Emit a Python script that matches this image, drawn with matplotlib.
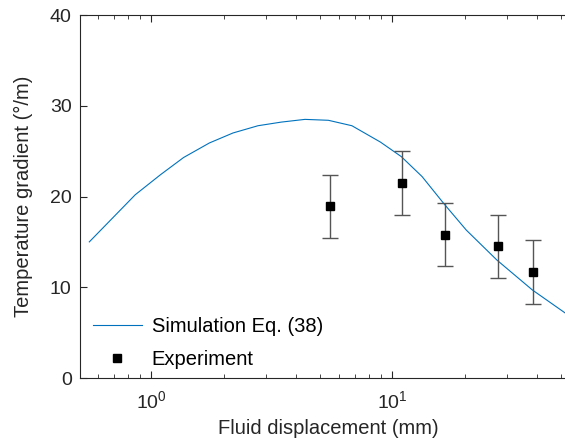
import numpy as np
import matplotlib.pyplot as plt
from matplotlib.lines import Line2D

plt.rcParams['font.family'] = ['Liberation Sans', 'DejaVu Sans']
plt.rcParams['mathtext.fontset'] = 'custom'
plt.rcParams['mathtext.rm'] = 'Liberation Sans'

# simulation curve
sim_x = [0.552, 0.857, 1.09, 1.36, 1.74, 2.18, 2.77, 3.46, 4.34, 5.43, 6.8, 8.93,
         10.9, 13.3, 16.4, 20.3, 27.2, 38.2, 54.0]
sim_y = [15.0, 20.2, 22.4, 24.3, 25.9, 27.0, 27.8, 28.2, 28.5, 28.4, 27.8, 26.0,
         24.4, 22.2, 19.2, 16.3, 13.0, 9.7, 6.9]

# experiment
exp_x = [5.5, 11.0, 16.5, 27.5, 38.5]
exp_y = [18.9, 21.5, 15.8, 14.5, 11.7]
exp_err = [3.45, 3.5, 3.5, 3.5, 3.5]

fig = plt.figure(figsize=(5.65, 4.43), dpi=100)
ax = fig.add_axes([0.1416, 0.1467, 0.878, 0.8194])

ax.plot(sim_x, sim_y, color='#0072BD', lw=0.8)
ax.errorbar(exp_x, exp_y, yerr=exp_err, fmt='s', color='black', ms=6,
            ecolor='#555555', elinewidth=1.0, capsize=6, capthick=1.0)

ax.set_xscale('log')
ax.set_xlim(0.505, 58)
ax.set_ylim(0, 40)
ax.set_yticks([0, 10, 20, 30, 40])

for s in ax.spines.values():
    s.set_color('#262626')
    s.set_linewidth(0.8)
ax.tick_params(which='both', direction='in', top=True, right=True,
               colors='#262626', labelsize=14)
ax.tick_params(which='major', length=5, width=0.8, pad=6)
ax.tick_params(axis='x', which='major', pad=9)
ax.tick_params(which='minor', length=3, width=0.6)

ax.set_xlabel('Fluid displacement (mm)', fontsize=14.5, color='#262626',
              labelpad=5)
ax.set_ylabel('Temperature gradient (°/m)', fontsize=14.5, color='#262626',
              labelpad=12)

handles = [Line2D([], [], color='#0072BD', lw=0.8),
           Line2D([], [], ls='none', marker='s', color='black', ms=6)]
ax.legend(handles, ['Simulation Eq. (38)', 'Experiment'], loc='lower left',
          frameon=False, fontsize=14.5, labelspacing=0.7, handlelength=2.4,
          handletextpad=0.5, bbox_to_anchor=(-0.01, -0.025))

fig.savefig('out.png', dpi=100)
